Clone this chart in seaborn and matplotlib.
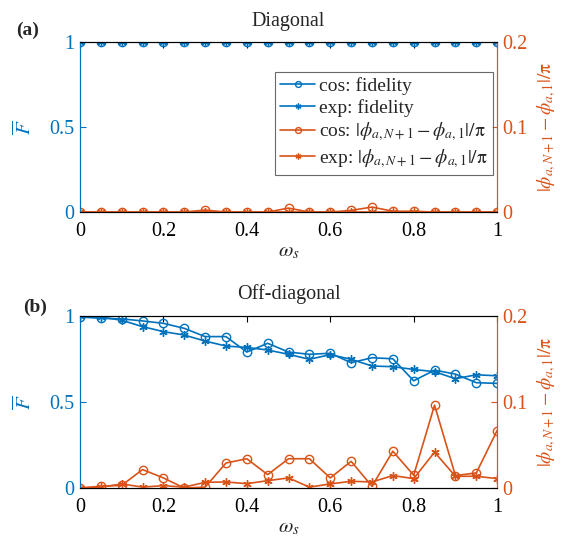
import numpy as np
import pandas as pd
import matplotlib
matplotlib.use("Agg")
import matplotlib.pyplot as plt
import seaborn as sns

sns.set_theme(style="white")
plt.rcParams['font.family'] = ['Liberation Serif', 'DejaVu Serif']
plt.rcParams['mathtext.fontset'] = 'stix'

omega = [0, 0.05, 0.1, 0.15, 0.2, 0.25, 0.3, 0.35, 0.4, 0.45, 0.5,
         0.55, 0.6, 0.65, 0.7, 0.75, 0.8, 0.85, 0.9, 0.95, 1.0]

diag_cos_fid = [1.0] * 21
diag_exp_fid = [1.0] * 21
diag_cos_phase = [0, 0, 0, 0, 0, 0, 0.0024, 0, 0, 0, 0.0047,
                  0, 0, 0.002, 0.0059, 0.001, 0.001, 0, 0, 0, 0]
diag_exp_phase = [0] * 21

off_cos_fid = [0.994, 0.986, 0.983, 0.971, 0.957, 0.928, 0.880, 0.880, 0.790, 0.841, 0.790,
               0.777, 0.783, 0.728, 0.757, 0.751, 0.623, 0.685, 0.662, 0.612, 0.608]
off_exp_fid = [1.0, 0.994, 0.975, 0.938, 0.909, 0.889, 0.854, 0.825, 0.817, 0.802, 0.777,
               0.748, 0.775, 0.748, 0.709, 0.705, 0.689, 0.676, 0.635, 0.658, 0.652]
off_cos_phase = [0, 0.002, 0.003, 0.0214, 0.0117, 0, 0.001, 0.029, 0.034, 0.0155, 0.034,
                 0.034, 0.0117, 0.031, 0.002, 0.0427, 0.0148, 0.0963, 0.0144, 0.0175, 0.0668]
off_exp_phase = [0, 0.001, 0.0047, 0.001, 0.0027, 0.001, 0.0066, 0.007, 0.005, 0.0085, 0.0117,
                 0.001, 0.0047, 0.0078, 0.007, 0.0144, 0.0109, 0.0416, 0.0136, 0.0136, 0.0109]

BLUE = '#0072BD'
ORANGE = '#D95319'
ASTER = (6, 2, 0)

xticks = [0, 0.2, 0.4, 0.6, 0.8, 1]
xticklabels = ['0', '0.2', '0.4', '0.6', '0.8', '1']

W, H = 563, 541
fig = plt.figure(figsize=(W / 100, H / 100), dpi=100)
ax_a = fig.add_axes([0.142, 0.608, 0.741, 0.314])
ax_b = fig.add_axes([0.142, 0.098, 0.741, 0.318])

phase_label = r'$|\phi_{a,N+1}-\phi_{a,1}|/\mathrm{\pi}$'


def draw(ax, cf, ef, cp, ep, title, legend):
    df = pd.DataFrame({'w': omega, 'cf': cf, 'ef': ef, 'cp': cp, 'ep': ep})
    ax2 = ax.twinx()
    sns.lineplot(data=df, x='w', y='cf', ax=ax, color=BLUE, marker='o', markersize=6,
                 markerfacecolor='none', markeredgecolor=BLUE, markeredgewidth=1.0,
                 linewidth=1.2, label='cos: fidelity', legend=False)
    sns.lineplot(data=df, x='w', y='ef', ax=ax, color=BLUE, marker=ASTER, markersize=6,
                 markeredgecolor=BLUE, markeredgewidth=1.0,
                 linewidth=1.2, label='exp: fidelity', legend=False)
    sns.lineplot(data=df, x='w', y='cp', ax=ax2, color=ORANGE, marker='o', markersize=6,
                 markerfacecolor='none', markeredgecolor=ORANGE, markeredgewidth=1.0,
                 linewidth=1.2, label='cos: ' + phase_label, legend=False)
    sns.lineplot(data=df, x='w', y='ep', ax=ax2, color=ORANGE, marker=ASTER, markersize=6,
                 markeredgecolor=ORANGE, markeredgewidth=1.0,
                 linewidth=1.2, label='exp: ' + phase_label, legend=False)

    ax.set_xlim(0, 1)
    ax.set_ylim(0, 1)
    ax2.set_ylim(0, 0.2)
    ax.set_xticks(xticks)
    ax.set_xticklabels(xticklabels)
    ax.set_yticks([0, 0.5, 1])
    ax.set_yticklabels(['0', '0.5', '1'])
    ax2.set_yticks([0, 0.1, 0.2])
    ax2.set_yticklabels(['0', '0.1', '0.2'])

    for a in (ax, ax2):
        a.tick_params(direction='in', length=4, width=0.8, labelsize=14.5)
        a.set_facecolor('none')
        for s in a.spines.values():
            s.set_linewidth(0.8)
            s.set_color('black')
    ax.spines['left'].set_color(BLUE)
    ax2.spines['left'].set_color(BLUE)
    ax.spines['right'].set_color(ORANGE)
    ax2.spines['right'].set_color(ORANGE)
    ax.tick_params(axis='y', colors=BLUE, labelcolor=BLUE, right=False, pad=4)
    ax.tick_params(axis='x', top=True, colors='black', pad=7)
    ax2.tick_params(axis='y', colors=ORANGE, labelcolor=ORANGE, pad=4)

    ax.set_xlabel(r'$\omega_s$', fontsize=15, labelpad=1)
    ax.set_ylabel(r'$\overline{F}$', fontsize=15, color=BLUE, labelpad=10)
    ax2.set_ylabel(phase_label, fontsize=14, color=ORANGE, labelpad=5)
    ax.set_title(title, fontsize=14.5, pad=12)
    ax2.set_zorder(ax.get_zorder() + 1)

    if legend:
        h1, l1 = ax.get_legend_handles_labels()
        h2, l2 = ax2.get_legend_handles_labels()
        leg = ax2.legend(h1 + h2, l1 + l2, loc='upper left', bbox_to_anchor=(0.468, 0.824),
                         fontsize=14, frameon=True, fancybox=False, edgecolor='#444444',
                         handlelength=1.8, handletextpad=0.2, borderpad=0.25,
                         labelspacing=0.2, markerscale=0.7, borderaxespad=0)
        leg.get_frame().set_linewidth(0.8)


draw(ax_a, diag_cos_fid, diag_exp_fid, diag_cos_phase, diag_exp_phase, 'Diagonal', True)
draw(ax_b, off_cos_fid, off_exp_fid, off_cos_phase, off_exp_phase, 'Off-diagonal', False)

fig.text(28 / W, 1 - 30 / H, '(a)', fontsize=14, fontweight='bold', ha='center', va='center')
fig.text(35 / W, 1 - 307 / H, '(b)', fontsize=14, fontweight='bold', ha='center', va='center')

fig.savefig('out.png', dpi=100, facecolor='white')
